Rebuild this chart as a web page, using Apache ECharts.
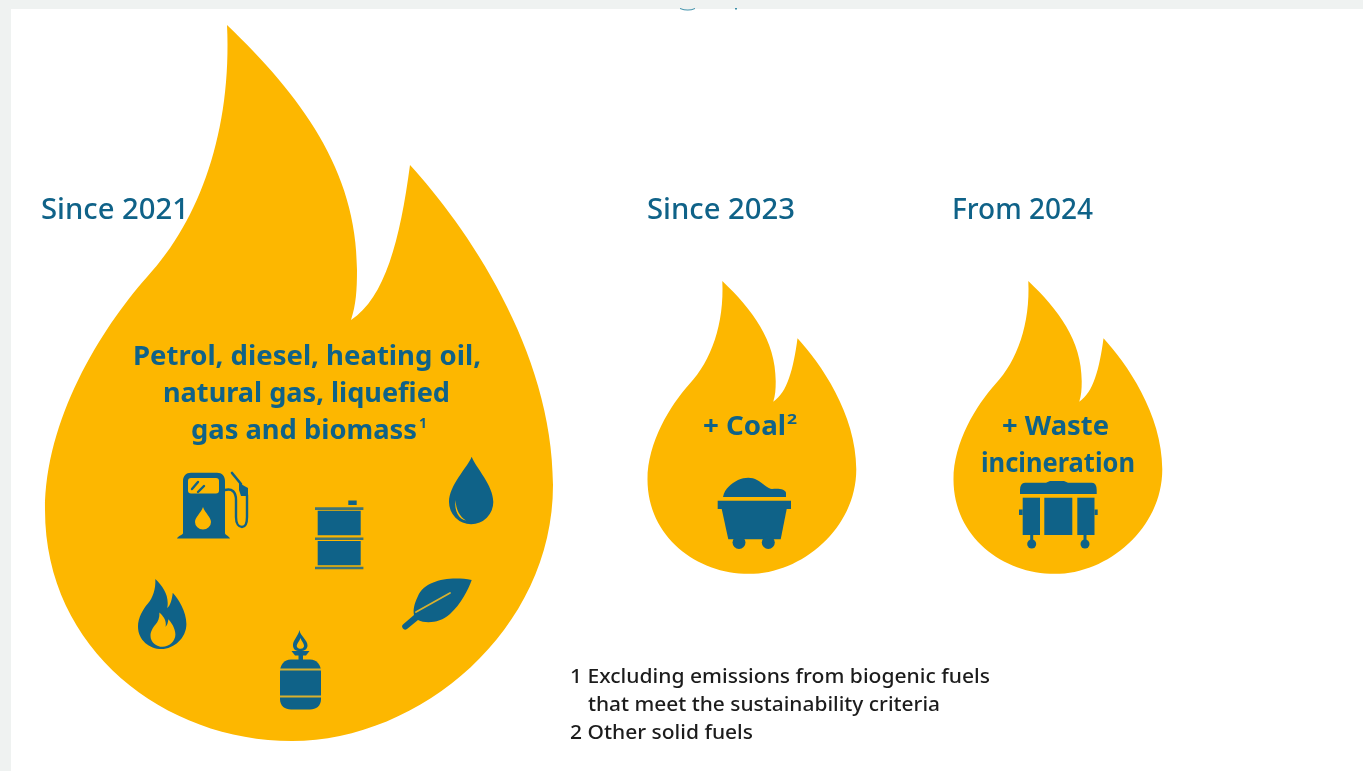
<!DOCTYPE html>
<html><head><meta charset="utf-8">
<style>html,body{margin:0;padding:0;background:#fff}#c{width:1363px;height:771px}</style>
<script src="https://cdn.jsdelivr.net/npm/echarts@6/dist/echarts.min.js"></script>
</head><body><div id="c"></div>
<script>
const periodLabels = ['Since 2021', 'Since 2023', 'From 2024'];
const fuelLines = ['Petrol, diesel, heating oil,', 'natural gas, liquefied', 'gas and biomass'];
const coalLabel = '+ Coal';
const wasteLines = ['+ Waste', 'incineration'];
const footnotes = ['1 Excluding emissions from biogenic fuels', 'that meet the sustainability criteria', '2 Other solid fuels'];

const BLUE = '#0f6288', YEL = '#fdb700', FN = '#1c1c1c', SEAM = '#d9b12e', RIM = '#3f7478';
const FONT = '"Noto Sans", sans-serif';
const mctx = document.createElement('canvas').getContext('2d');
function txt(s, left, cy, width, size, weight, fill) {
  const font = (weight || 'normal') + ' ' + size + 'px ' + FONT;
  mctx.font = font;
  const sx = width / mctx.measureText(s).width;
  return {type:'text', x:left, y:cy, scaleX:sx,
    style:{text:s, font:font, fill:fill||BLUE, align:'left', verticalAlign:'middle'}};
}
function P(d, fill, extra) { return Object.assign({type:'path', shape:{pathData:d}, style:{fill:fill||BLUE}}, extra||{}); }
function L(d, w, color) { return {type:'path', shape:{pathData:d}, style:{fill:'none', stroke:color||BLUE, lineWidth:w, lineCap:'round', lineJoin:'round'}}; }
function R(x,y,w,h,fill,r) { return {type:'rect', shape:{x,y,width:w,height:h,r:r||0}, style:{fill:fill||BLUE}}; }
function C(cx,cy,r,fill) { return {type:'circle', shape:{cx,cy,r}, style:{fill:fill||BLUE}}; }

const flame = 'M227 25C300 95 357 170 357 270C357 290 356 305 351 320C385 298 400 240 410 165C465 225 553 350 553 485C553 630 420 741 292 741C165 741 45 650 45 510C45 420 100 330 147 277C200 220 232 130 227 25Z';
function F(ox, oy, s, fill, sy) { return P(flame, fill||YEL, {x:ox, y:oy, scaleX:s, scaleY:sy||s}); }

const els = [
  R(0,0,1363,771,'#eff2f1'), R(11,9,1352,762,'#ffffff'),
  P('M680 8Q688 11 695 8L695 9Q688 12 680 9Z','#3d8fa8'), R(735,8,2,1.5,'#3d8fa8'),
  F(0,0,1,YEL), F(629,270.8,0.411,YEL,0.409), F(935,270.8,0.411,YEL,0.409),

  // Fuel pump
  P('M191 472.7H217C222 472.7 225 476 225 481V533C225 535 228 535 230 538.5H177C179 535 183 535 183 533V481C183 476 186 472.7 191 472.7Z'),
  R(188,478,31,15.5,YEL,3),
  L('M192 489L198 482M198 492L204 486',2.4),
  P('M203 507C205 513 211 517 211 522A8 7.5 0 0 1 195 522C195 517 201 513 203 507Z',YEL),
  L('M225 490C232 488 236 492 236 500V517C236 524 239 527 242 527C245 527 247 524 247 517V495',2.4),
  L('M232 473L241 484',2.6),
  P('M239 483L248 488V496H241L239 490Z'),

  // Barrel
  R(348.3,500.5,8.4,4.5), R(315,507.3,48.4,2.6,RIM), R(317.7,510.7,43,24.5), R(315,537.4,48.4,2.6,RIM), R(317.7,541,43,24.3), R(315,566.7,48.4,2.6,RIM),

  // Drop
  P('M471.7 456.7C476 468 493.3 485 493.3 502A22 22 0 0 1 449 502C449 485 467 468 471.7 456.7Z'),
  P('M455.5 500C456 510 460 517 466 520.5C459 519.5 454 511 455.5 500Z',YEL),

  // Flame icon
  F(133.7,576.6,0.0953,BLUE,0.0978),
  F(148.3,611.3,0.049,YEL,0.048),

  // Leaf
  P('M471.7 580C450 576 425 580 418 596C414 604 413 610 414 615L403.5 624A2.5 2.5 0 0 0 407 629L418 620C426 624 440 623 450 614C461 604 468 590 471.7 580Z'),
  L('M416 612L450 593',1.8,SEAM),

  // Gas bottle
  P('M291 659.5H310C317 659.5 321 665 321 672V699C321 706 316 709.5 310 709.5H291C285 709.5 280 706 280 699V672C280 665 284 659.5 291 659.5Z'),
  R(280,668.5,41,2,SEAM), R(280,695.5,41,2,SEAM),
  R(298.5,654,4.5,6), P('M291.5 651H309.5L306 655.5H295Z'),
  P('M299.5 630C300 636 308 640 307.5 646C307 649 305 651 300 651C295 651 293.5 649 293 646C292.5 640 298 637 299.5 630Z'),
  P('M300.5 638C302 642 304.5 644 304 646.5A3.7 3 0 0 1 296.8 646.5C296.5 644 299 642 300.5 638Z',YEL),

  // Coal cart
  P('M723 497C725 488 731 484 738 480C745 477 752 477 757 480C763 483 768 489 772 489C778 488 786 489 786 493V497Z'),
  R(717.7,500.7,73.3,8.3),
  P('M721.7 509H786.7L780.7 539.3H728.3Z'),
  C(739,542.5,6.5), C(768.3,542.5,6.5),

  // Bin
  P('M1046 482.7L1050 481H1064L1068 482.7H1092Q1096.7 483 1096.7 490V494H1020V490Q1020 483 1025 482.7Z'),
  R(1022.7,497.7,17.3,37.3), R(1044.3,497.7,28,37.3), R(1077.3,497.7,17.2,37.3),
  R(1019,509.5,3.7,5.5), R(1094.5,509.5,3.2,5.5),
  R(1030.2,535,3,8), R(1083.5,535,3,8), C(1031.7,544,4.5), C(1085,544,4.5),

  // Text
  txt(periodLabels[0],41,211,148,28,'500'),
  txt(periodLabels[1],647,211,148,28,'500'),
  txt(periodLabels[2],952,211,141,28,'500'),
  txt(fuelLines[0],133,357,348,27,'700'),
  txt(fuelLines[1],163,394,287,27,'700'),
  txt(fuelLines[2],191,431,226,27,'700'),
  txt('1',419,424,8,15,'700'),
  txt(coalLabel,703,427,83,27,'700'),
  txt('2',787,420,10,15,'700'),
  txt(wasteLines[0],1002,427,107,27,'700'),
  txt(wasteLines[1],981,464,154,27,'700'),
  txt(footnotes[0],570,677,420,20,'500',FN),
  txt(footnotes[1],588,705,352,20,'500',FN),
  txt(footnotes[2],570,733,183,20,'500',FN)
];

const chart = echarts.init(document.getElementById('c'), null, {renderer:'canvas'});
chart.setOption({
  animation:false, backgroundColor:'#ffffff',
  series:[{type:'custom', coordinateSystem:'none', silent:true, data:[0],
    renderItem:function(){ return {type:'group', children:els}; }}]
});
</script></body></html>
